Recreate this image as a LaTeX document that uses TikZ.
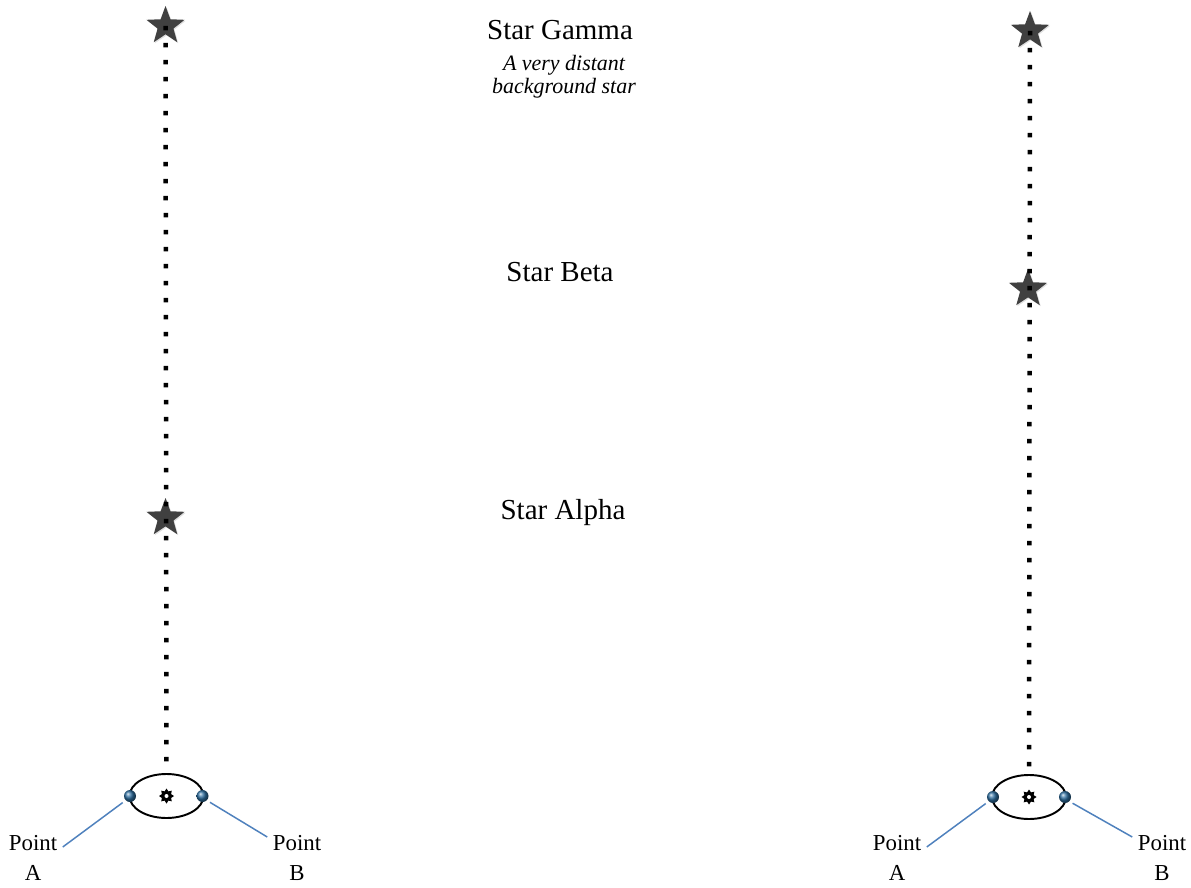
\documentclass[tikz,border=0pt]{standalone}
\usepackage{fontspec}
\setmainfont{Liberation Serif}
\usetikzlibrary{shapes.geometric, shadows}
\definecolor{starfill}{HTML}{404040}
\definecolor{pointblue}{HTML}{4F81BD}

\begin{document}
\begin{tikzpicture}[
    farstar/.style={star, star points=5, star point ratio=2.4, fill=starfill, draw=none, minimum size=0.8cm, inner sep=0pt,
        drop shadow={shadow xshift=0.6pt, shadow yshift=-0.6pt, opacity=0.25}},
    sightline/.style={line width=0.09cm, dash pattern=on 0.09cm off 0.25cm},
    orbit/.style={ellipse, draw, line width=1.1pt, minimum width=1.48cm, minimum height=0.88cm, inner sep=0pt},
    earth/.style={circle, ball color={rgb,255:red,45;green,110;blue,160}, minimum size=0.24cm, inner sep=0pt},
    sun/.style={star, star points=8, star point ratio=1.5, fill=black, minimum size=0.3cm, inner sep=0pt},
    starlabel/.style={font=\fontsize{16.5}{19}\selectfont, align=center},
    pointlabel/.style={font=\fontsize{13}{17}\selectfont, align=center, anchor=north, inner sep=1pt},
    pointer/.style={draw=pointblue, line width=0.85pt, shorten <=2pt}
]
\useasboundingbox (0,0) rectangle (23.82,-17.76);

% left: two stars on one line of sight
\node[farstar] (gammaL) at (3.31,-0.52) {};
\node[farstar] (alphaL) at (3.31,-10.36) {};
\node[orbit] (orbitL) at (3.33,-15.92) {};
\node[sun] (sunL) at (3.33,-15.92) {};
\fill[white] (sunL) circle (0.04);
\node[earth] (earthAL) at (2.60,-15.92) {};
\node[earth] (earthBL) at (4.05,-15.92) {};
\draw[sightline] (gammaL.center) -- (orbitL.north);

\node[pointlabel] (pointAL) at (0.66,-16.66) {Point\\A};
\node[pointlabel] (pointBL) at (5.94,-16.66) {Point\\B};
\draw[pointer] (earthAL.south west) -- ([xshift=2pt, yshift=-0.28cm]pointAL.north east);
\draw[pointer] (earthBL.south east) -- ([xshift=-2pt, yshift=-0.08cm]pointBL.north west);

% labels in the middle
\node[starlabel] (gammaText) at (11.2,-0.6) {Star Gamma};
\node[starlabel, font=\fontsize{12.5}{13.2}\selectfont\itshape, anchor=north] (gammaNote) at (11.28,-0.98) {A very distant\\background star};
\node[starlabel] (betaText) at (11.2,-5.44) {Star Beta};
\node[starlabel] (alphaText) at (11.26,-10.26) {Star Alpha};

% right: the two stars seen apart
\node[farstar] (gammaR) at (20.60,-0.62) {};
\node[farstar] (betaR) at (20.56,-5.78) {};
\node[orbit] (orbitR) at (20.58,-15.94) {};
\node[sun] (sunR) at (20.58,-15.94) {};
\fill[white] (sunR) circle (0.04);
\node[earth] (earthAR) at (19.86,-15.94) {};
\node[earth] (earthBR) at (21.30,-15.94) {};
\draw[sightline] (gammaR.center) -- (orbitR.north);

\node[pointlabel] (pointAR) at (17.94,-16.66) {Point\\A};
\node[pointlabel] (pointBR) at (23.24,-16.66) {Point\\B};
\draw[pointer] (earthAR.south west) -- ([xshift=2pt, yshift=-0.28cm]pointAR.north east);
\draw[pointer] (earthBR.south east) -- ([xshift=-2pt, yshift=-0.08cm]pointBR.north west);
\end{tikzpicture}
\end{document}
